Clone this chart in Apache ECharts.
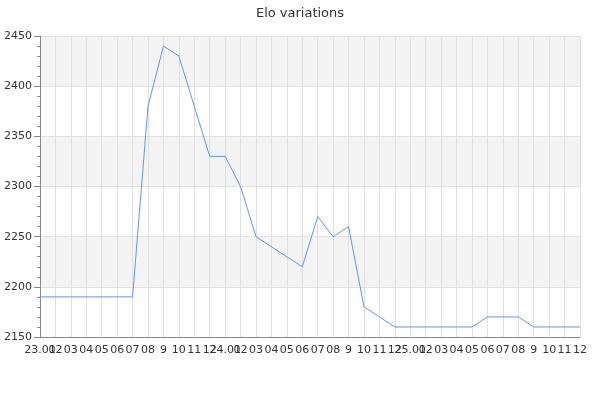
<!DOCTYPE html>
<html><head><meta charset="utf-8">
<script src="https://cdn.jsdelivr.net/npm/echarts@6/dist/echarts.min.js"></script>
<style>html,body{margin:0;padding:0;background:#fff}#c{width:600px;height:400px}</style>
</head><body><div id="c"></div>
<script>
var categories = ["23.01","02","03","04","05","06","07","08","9","10","11","12",
  "24.01","02","03","04","05","06","07","08","9","10","11","12",
  "25.01","02","03","04","05","06","07","08","9","10","11","12"];
var elo = [2190,2190,2190,2190,2190,2190,2190,2380,2440,2430,2380,2330,
  2330,2300,2250,2240,2230,2220,2270,2250,2260,2180,2170,2160,
  2160,2160,2160,2160,2160,2170,2170,2170,2160,2160,2160,2160];
var yMin = 2150, yMax = 2450, yStep = 50;
var chart = echarts.init(document.getElementById('c'), null, {renderer:'canvas'});
chart.setOption({
  animation:false,
  backgroundColor:'#fff',
  title:{text:'Elo variations',left:'center',top:2,textStyle:{fontSize:13,fontWeight:'normal',color:'#333',fontFamily:'DejaVu Sans'}},
  grid:{left:40,right:20,top:36,bottom:63},
  xAxis:{type:'category',data:categories,boundaryGap:false,
    axisLine:{lineStyle:{color:'#888'}},
    axisTick:{show:false},
    axisLabel:{interval:0,color:'#333',fontSize:11,fontFamily:'DejaVu Sans',margin:8},
    splitLine:{show:true,interval:0,lineStyle:{color:'#e0e0e0'}}},
  yAxis:{type:'value',min:yMin,max:yMax,interval:yStep,
    axisLine:{show:true,lineStyle:{color:'#888'}},
    axisTick:{show:true,length:6,lineStyle:{color:'#888'}},
    minorTick:{show:true,splitNumber:5,length:3,lineStyle:{color:'#888'}},
    axisLabel:{color:'#333',fontSize:11,fontFamily:'DejaVu Sans',margin:8,formatter:function(v){return String(v);}},
    splitLine:{show:true,lineStyle:{color:'#e0e0e0'}},
    splitArea:{show:true,areaStyle:{color:['#ffffff','#f3f3f3']}}},
  series:[{type:'line',data:elo,symbol:'none',lineStyle:{color:'#6495ed',width:1}}]
});
</script></body></html>
